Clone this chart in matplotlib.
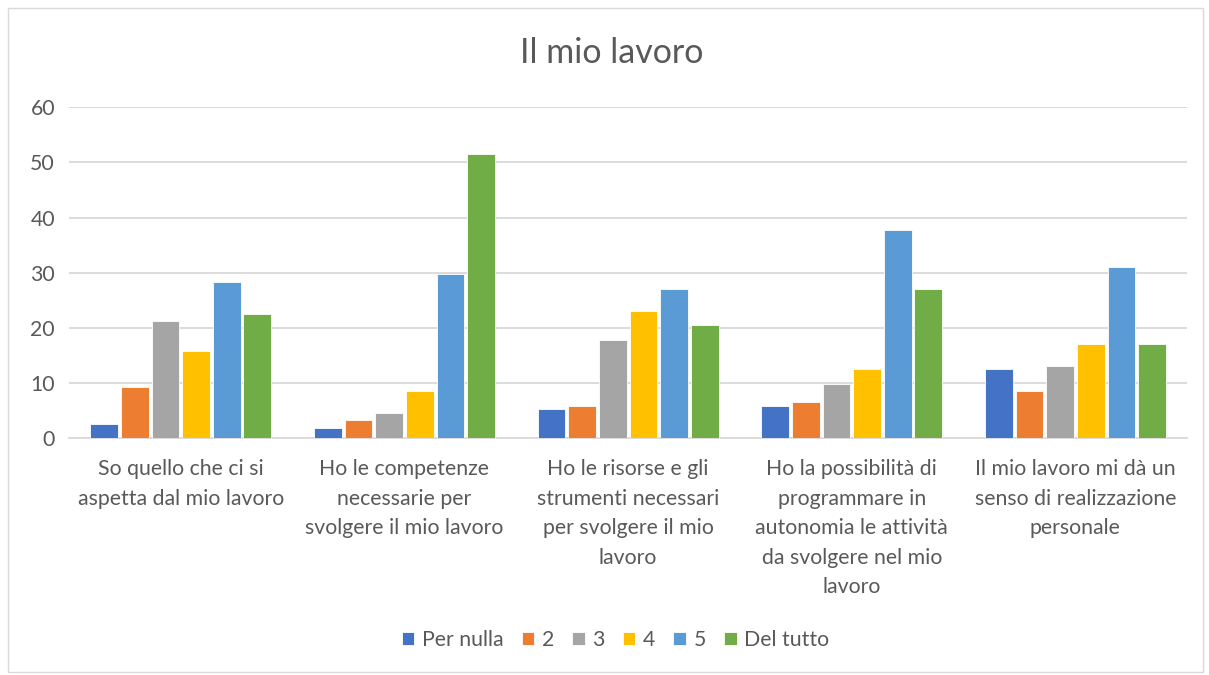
import numpy as np
import matplotlib
matplotlib.use("Agg")
import matplotlib.pyplot as plt
from matplotlib.patches import Rectangle

categories = [
    "So quello che ci si\naspetta dal mio lavoro",
    "Ho le competenze\nnecessarie per\nsvolgere il mio lavoro",
    "Ho le risorse e gli\nstrumenti necessari\nper svolgere il mio\nlavoro",
    "Ho la possibilità di\nprogrammare in\nautonomia le attività\nda svolgere nel mio\nlavoro",
    "Il mio lavoro mi dà un\nsenso di realizzazione\npersonale",
]
series_names = ["Per nulla", "2", "3", "4", "5", "Del tutto"]
per_nulla = [2.6, 1.9, 5.2, 5.9, 12.5]
val_2 = [9.2, 3.3, 5.9, 6.5, 8.5]
val_3 = [21.2, 4.6, 17.8, 9.9, 13.1]
val_4 = [15.8, 8.5, 23.1, 12.5, 17.1]
val_5 = [28.4, 29.7, 27.1, 37.7, 31.1]
del_tutto = [22.5, 51.6, 20.5, 27.1, 17.1]
colors = ["#4472C4", "#ED7D31", "#A5A5A5", "#FFC000", "#5B9BD5", "#70AD47"]

plt.rcParams['font.family'] = ['Lato', 'DejaVu Sans']
text_color = "#595959"

fig = plt.figure(figsize=(12.09, 6.75), dpi=100)
ax = fig.add_axes([0.057, 0.351, 0.925, 0.490])

series = [per_nulla, val_2, val_3, val_4, val_5, del_tutto]
x = np.arange(len(categories))
stride = 0.137
width = 0.124
for i, (name, vals) in enumerate(zip(series_names, series)):
    offs = (i - 2.5) * stride
    ax.bar(x + offs, vals, width=width, color=colors[i], label=name,
           edgecolor="white", linewidth=0.6, zorder=3)

ax.set_xlim(-0.5, len(categories) - 0.5)
ax.set_ylim(0, 60)
ax.set_yticks(range(0, 61, 10))
ax.yaxis.grid(True, color="#D9D9D9", linewidth=1.3, zorder=0)
for s in ["top", "right", "left"]:
    ax.spines[s].set_visible(False)
ax.spines["bottom"].set_color("#D9D9D9")
ax.spines["bottom"].set_linewidth(1.3)
ax.tick_params(axis="both", length=0, colors=text_color, labelsize=15.3)
ax.tick_params(axis="y", pad=10)
ax.set_xticks(x)
ax.set_xticklabels(categories, va="top", linespacing=1.6)
ax.tick_params(axis="x", pad=15)

fig.text(0.506, 0.922, "Il mio lavoro", ha="center", va="center",
         fontsize=24.5, color=text_color)

leg = fig.legend(loc="center", bbox_to_anchor=(0.509, 0.052), ncol=6,
                 frameon=False, fontsize=15.3, handlelength=0.6,
                 handleheight=0.6, handletextpad=0.35, columnspacing=0.85)
for t in leg.get_texts():
    t.set_color(text_color)

fig.patches.append(Rectangle((0.007, 0.005), 0.988, 0.983, transform=fig.transFigure,
                             fill=False, edgecolor="#D9D9D9", linewidth=1.0))

fig.savefig("out.png", dpi=100, facecolor="white")
